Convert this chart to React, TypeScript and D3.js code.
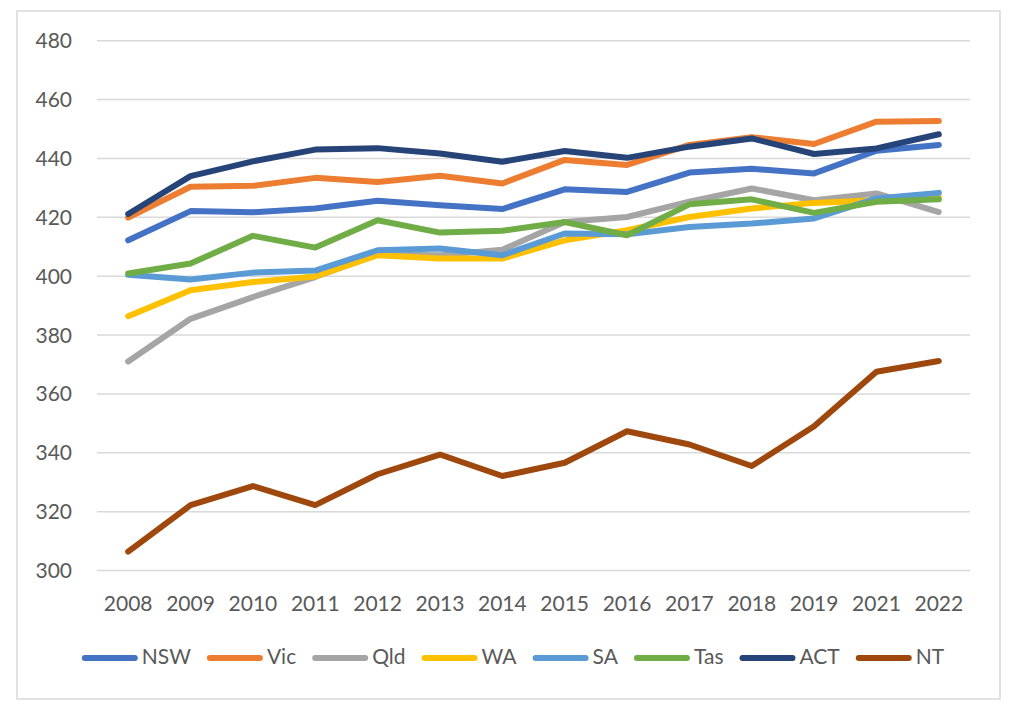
import * as d3 from "d3";
import { useEffect, useRef } from "react";

const years = ["2008", "2009", "2010", "2011", "2012", "2013", "2014", "2015", "2016", "2017", "2018", "2019", "2021", "2022"];
const yTicks = [300, 320, 340, 360, 380, 400, 420, 440, 460, 480];

const nsw = [412.2, 422.1, 421.7, 423.0, 425.6, 424.1, 422.8, 429.5, 428.6, 435.2, 436.5, 434.9, 442.6, 444.6];
const vic = [419.9, 430.4, 430.7, 433.4, 432.0, 434.1, 431.5, 439.5, 437.8, 444.6, 447.2, 444.9, 452.5, 452.7];
const qld = [371.0, 385.5, 392.9, 399.7, 407.4, 407.1, 409.0, 418.4, 420.1, 425.3, 429.8, 425.8, 428.1, 421.8];
const wa = [386.4, 395.2, 398.0, 399.9, 407.1, 406.0, 406.0, 412.2, 415.6, 420.1, 423.0, 424.9, 425.8, 426.7];
const sa = [400.5, 398.9, 401.2, 401.9, 408.8, 409.4, 407.1, 414.5, 414.2, 416.7, 417.9, 419.6, 426.4, 428.3];
const tas = [400.9, 404.3, 413.7, 409.7, 419.0, 414.8, 415.4, 418.4, 413.9, 424.4, 426.1, 421.5, 425.3, 426.1];
const act = [421.1, 434.0, 439.0, 443.0, 443.5, 441.7, 438.9, 442.5, 440.2, 444.0, 446.8, 441.5, 443.4, 448.2];
const nt = [306.4, 322.2, 328.7, 322.2, 332.7, 339.4, 332.1, 336.6, 347.3, 342.8, 335.5, 349.0, 367.5, 371.2];

const seriesNames = ["NSW", "Vic", "Qld", "WA", "SA", "Tas", "ACT", "NT"];
const seriesValues = [nsw, vic, qld, wa, sa, tas, act, nt];
const seriesColors = ["#4472C4", "#ED7D31", "#A5A5A5", "#FFC000", "#5B9BD5", "#70AD47", "#264478", "#9E480E"];

const W = 1024;
const H = 713;
const FONT = "Lato, 'Open Sans', 'Liberation Sans', sans-serif";
const TEXT = "#595959";

export default function App() {
  const svgRef = useRef<SVGSVGElement | null>(null);

  useEffect(() => {
    document.body.style.margin = "0";
    const svg = d3.select(svgRef.current);
    svg.selectAll("*").remove();

    // chart frame
    svg
      .append("rect")
      .attr("x", 17)
      .attr("y", 11)
      .attr("width", 983)
      .attr("height", 688)
      .attr("fill", "#fff")
      .attr("stroke", "#d9d9d9")
      .attr("stroke-width", 1.5);

    const x = d3.scaleBand().domain(years).range([97, 970]);
    const y = d3.scaleLinear().domain([300, 480]).range([570.5, 40.7]);

    // gridlines
    svg
      .append("g")
      .selectAll("line")
      .data(yTicks)
      .enter()
      .append("line")
      .attr("x1", 97)
      .attr("x2", 970)
      .attr("y1", (d) => y(d))
      .attr("y2", (d) => y(d))
      .attr("stroke", "#d9d9d9")
      .attr("stroke-width", 1.5);

    // y labels
    svg
      .append("g")
      .selectAll("text")
      .data(yTicks)
      .enter()
      .append("text")
      .attr("x", 72)
      .attr("y", (d) => y(d) + 7.5)
      .attr("text-anchor", "end")
      .attr("font-family", FONT)
      .attr("font-size", 21)
      .attr("fill", TEXT)
      .text((d) => d);

    // x labels
    svg
      .append("g")
      .selectAll("text")
      .data(years)
      .enter()
      .append("text")
      .attr("x", (d) => (x(d) || 0) + x.bandwidth() / 2)
      .attr("y", 611)
      .attr("text-anchor", "middle")
      .attr("font-family", FONT)
      .attr("font-size", 21)
      .attr("fill", TEXT)
      .text((d) => d);

    const line = d3
      .line<number>()
      .x((_, i) => (x(years[i]) || 0) + x.bandwidth() / 2)
      .y((d) => y(d));

    svg
      .append("g")
      .selectAll("path")
      .data(seriesValues)
      .enter()
      .append("path")
      .attr("d", (d) => line(d))
      .attr("fill", "none")
      .attr("stroke", (_, i) => seriesColors[i])
      .attr("stroke-width", 6)
      .attr("stroke-linecap", "round")
      .attr("stroke-linejoin", "round");

    // legend
    const legend = svg.append("g");
    const items = legend
      .selectAll("g")
      .data(seriesNames)
      .enter()
      .append("g");
    items
      .append("text")
      .attr("y", 664)
      .attr("font-family", FONT)
      .attr("font-size", 21)
      .attr("fill", TEXT)
      .text((d) => d);

    const lineLen = 56;
    const gap = 4;
    const itemGap = 16;
    const widths: number[] = [];
    items.each(function () {
      const t = d3.select(this).select("text").node() as SVGTextElement;
      widths.push(t.getComputedTextLength());
    });
    const total = widths.reduce((a, w) => a + lineLen + gap + w, 0) + itemGap * (widths.length - 1);
    let cx = 513 - total / 2;
    items.each(function (_, i) {
      const g = d3.select(this);
      g.insert("line", "text")
        .attr("x1", cx + 3)
        .attr("x2", cx + lineLen - 3)
        .attr("y1", 658)
        .attr("y2", 658)
        .attr("stroke", seriesColors[i])
        .attr("stroke-width", 6)
        .attr("stroke-linecap", "round");
      g.select("text").attr("x", cx + lineLen + gap);
      cx += lineLen + gap + widths[i] + itemGap;
    });
  }, []);

  return <svg ref={svgRef} width={W} height={H} style={{ display: "block" }}></svg>;
}
